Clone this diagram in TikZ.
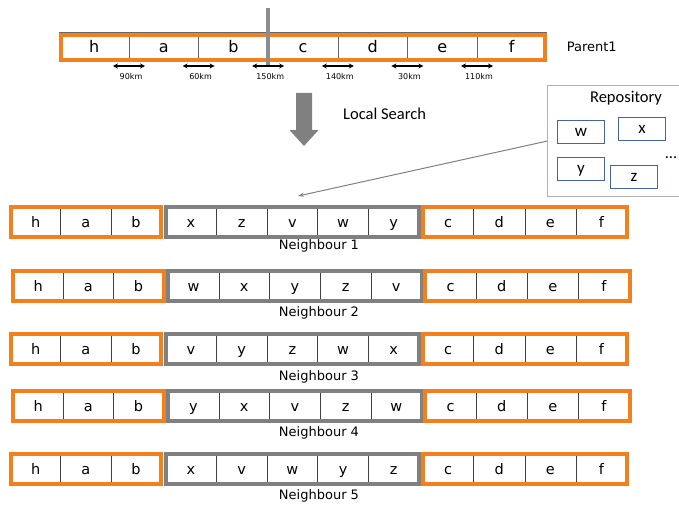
\documentclass[tikz,border=0pt]{standalone}
\usepackage{fontspec}
\setmainfont{DejaVu Sans}
\newfontfamily\calfont{Carlito}
\usetikzlibrary{positioning,arrows.meta}
\definecolor{segorange}{RGB}{243,127,30}
\definecolor{seggrey}{RGB}{128,128,128}
\definecolor{repoblue}{RGB}{68,100,165}

\begin{document}
\begin{tikzpicture}[x=1pt,y=-1pt,>=Stealth,
  cell/.style={draw=black!75,line width=0.6pt,minimum width=#1,minimum height=30,inner sep=0,outer sep=0,text height=10.5pt,text depth=0pt,font=\fontsize{14.5}{14.5}\selectfont},
  pcell/.style={cell=69.6,draw=black!60,minimum height=29.5,text height=11.5pt,font=\fontsize{16}{16}\selectfont},
  orangebox/.style={draw=segorange,line width=4pt},
  greybox/.style={draw=seggrey,line width=4pt},
  km/.style={font=\fontsize{8}{8}\selectfont,inner sep=0},
  kmarrow/.style={<->,line width=1.2pt,>={Stealth[length=5pt,width=5pt]}},
  lbl/.style={font=\fontsize{13}{13}\selectfont,inner sep=0},
  calib/.style={font=\calfont\fontsize{16.5}{16.5}\selectfont,inner sep=0},
  repoitem/.style={draw=repoblue,line width=0.9pt,minimum width=47,minimum height=23,inner sep=0,text height=11pt,text depth=2pt,font=\calfont\fontsize{17}{17}\selectfont,anchor=north west}]
\useasboundingbox (0,0) rectangle (679,508);

% parent tour
\node[pcell,anchor=north west] (p0) at (59.4,32) {h};
\foreach \l [count=\i] in {a,b,c,d,e,f}{
  \pgfmathtruncatemacro\j{\i-1}
  \node[pcell,right=0pt of p\j] (p\i) {\l};
}
\draw[orangebox] ([shift={(2,3)}]p0.north west) rectangle ([shift={(-2,-1)}]p6.south east);
\draw[seggrey!90,line width=3.5pt] ([yshift=24pt]p3.north west) -- ([yshift=-4pt]p3.south west);
\foreach \i/\dist in {0/90,1/60,2/150,3/140,4/30,5/110}{
  \draw[kmarrow] ([shift={(-16pt,-4.5pt)}]p\i.south east) -- ([shift={(16pt,-4.5pt)}]p\i.south east);
  \node[km] (km\i) at ([shift={(2pt,-15.5pt)}]p\i.south east) {\dist km};
}
\node[lbl,right=20pt of p6] (parent) {Parent1};

% local search step
\fill[seggrey] (296,93) -- (312,93) -- (312,130) -- (318.5,130) -- (304,146) -- (289.5,130) -- (296,130) -- cycle;
\node[calib,anchor=west] (search) at (343,114) {Local Search};

% repository
\node[draw=black!30,line width=1.2pt,minimum width=140,minimum height=111,anchor=north west,inner sep=0] (repo) at (547,85) {};
\node[calib] (repotitle) at (626,98) {Repository};
\node[repoitem] (rw) at (557,120) {w};
\node[repoitem] (rx) at (618,117) {x};
\node[repoitem] (ry) at (557,157) {y};
\node[repoitem] (rz) at (610,165) {z};
\node[calib] (rdots) at (671,158) {...};
\coordinate (drop) at (298,196);
\draw[->,seggrey,line width=1pt,>={Stealth[length=6pt,width=4pt]}] (repo.west) -- (drop);

% neighbours
\foreach \r/\ytop/\xo/\shuffle/\laby in {1/207/10.5/{x,z,v,w,y}/246,2/271/13/{w,x,y,z,v}/313,3/334/10.5/{v,y,z,w,x}/377,4/391/13/{y,x,v,z,w}/433,5/454/10.5/{x,v,w,y,z}/496}{
  \node[cell=50.2,anchor=north west] (n\r-l1) at (\xo,\ytop) {h};
  \node[cell=50.2,right=0pt of n\r-l1] (n\r-l2) {a};
  \node[cell=50.2,right=0pt of n\r-l2] (n\r-l3) {b};
  \draw[orangebox] (n\r-l1.north west) rectangle (n\r-l3.south east);
  \coordinate (n\r-m0) at ([xshift=4.5pt]n\r-l3.east);
  \foreach \l [count=\k] in \shuffle {
    \pgfmathtruncatemacro\kp{\k-1}
    \node[cell=50.7,right=0pt of n\r-m\kp] (n\r-m\k) {\l};
  }
  \draw[greybox] (n\r-m1.north west) rectangle (n\r-m5.south east);
  \coordinate (n\r-r0) at ([xshift=3.5pt]n\r-m5.east);
  \foreach \l [count=\k] in {c,d,e,f} {
    \pgfmathtruncatemacro\kp{\k-1}
    \node[cell=51.1,right=0pt of n\r-r\kp] (n\r-r\k) {\l};
  }
  \draw[orangebox] (n\r-r1.north west) rectangle (n\r-r4.south east);
  \node[lbl] (lab\r) at (319,\laby) {Neighbour \r};
}
\end{tikzpicture}
\end{document}
